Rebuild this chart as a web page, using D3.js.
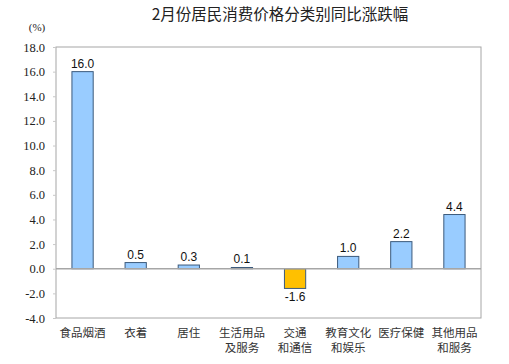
<!DOCTYPE html>
<html><head><meta charset="utf-8">
<script src="https://cdn.jsdelivr.net/npm/d3@7"></script>
<style>body{margin:0;background:#fff}</style>
</head><body>
<script>
const categories = [["食品烟酒"],["衣着"],["居住"],["生活用品","及服务"],["交通","和通信"],["教育文化","和娱乐"],["医疗保健"],["其他用品","和服务"]];
const values = [16.0, 0.5, 0.3, 0.1, -1.6, 1.0, 2.2, 4.4];
const yTicks = [-4, -2, 0, 2, 4, 6, 8, 10, 12, 14, 16, 18];
const title = "2月份居民消费价格分类别同比涨跌幅";
const unit = "(%)";

const W = 509, H = 364;
const m = {left: 56, right: 28, top: 47, bottom: 46};
const svg = d3.select("body").append("svg").attr("width", W).attr("height", H);
const fmt = d => d3.format(".1f")(d).replace("−", "-");

const x = d3.scaleBand().domain(d3.range(values.length)).range([m.left, W - m.right]).paddingInner(0.6).paddingOuter(0.3);
const y = d3.scaleLinear().domain([-4, 18]).range([H - m.bottom, m.top]);

svg.append("text").attr("x", 280).attr("y", 20).attr("text-anchor", "middle")
  .attr("font-family", "Noto Sans CJK SC").attr("font-size", 15.5).attr("fill", "#222").text(title);
svg.append("text").attr("x", 37).attr("y", 31).attr("text-anchor", "middle")
  .attr("font-family", "Liberation Serif").attr("font-size", 11).attr("fill", "#222").text(unit);

// plot border
svg.append("rect").attr("x", m.left).attr("y", m.top).attr("width", W - m.right - m.left).attr("height", H - m.bottom - m.top)
  .attr("fill", "none").attr("stroke", "#a6a6a6").attr("stroke-width", 1);

// y axis
const ya = svg.append("g").attr("transform", `translate(${m.left},0)`)
  .call(d3.axisLeft(y).tickValues(yTicks).tickFormat(fmt).tickSize(3).tickPadding(8));
ya.select(".domain").remove();
ya.selectAll("line").attr("stroke", "#c8c8c8");
ya.selectAll("text").attr("font-family", "Liberation Serif").attr("font-size", 12.5).attr("fill", "#222");

// bars
svg.selectAll("rect.bar").data(values).join("rect").attr("class", "bar")
  .attr("x", (d, i) => x(i)).attr("width", x.bandwidth())
  .attr("y", d => y(Math.max(0, d))).attr("height", d => Math.abs(y(d) - y(0)))
  .attr("fill", d => d < 0 ? "#ffc000" : "#99ccff")
  .attr("stroke", "#3c5a7c").attr("stroke-width", 1);

// zero line
svg.append("line").attr("x1", m.left).attr("x2", W - m.right).attr("y1", y(0)).attr("y2", y(0))
  .attr("stroke", "#a6a6a6").attr("stroke-width", 1.5);

// value labels
svg.selectAll("text.val").data(values).join("text").attr("class", "val")
  .attr("x", (d, i) => x(i) + x.bandwidth() / 2)
  .attr("y", d => d < 0 ? y(d) + 13 : y(d) - 4)
  .attr("text-anchor", "middle").attr("font-family", "Liberation Sans").attr("font-size", 12).attr("fill", "#111")
  .text(fmt);

// category labels (one text element per line)
const catLines = categories.flatMap((lines, i) => lines.map((s, j) => ({s, i, j})));
svg.selectAll("text.cat").data(catLines).join("text").attr("class", "cat")
  .attr("text-anchor", "middle").attr("font-family", "Noto Sans CJK SC").attr("font-size", 11.5).attr("fill", "#333")
  .attr("x", d => x(d.i) + x.bandwidth() / 2)
  .attr("y", d => H - m.bottom + 19 + d.j * 15)
  .text(d => d.s);
</script>
</body></html>
